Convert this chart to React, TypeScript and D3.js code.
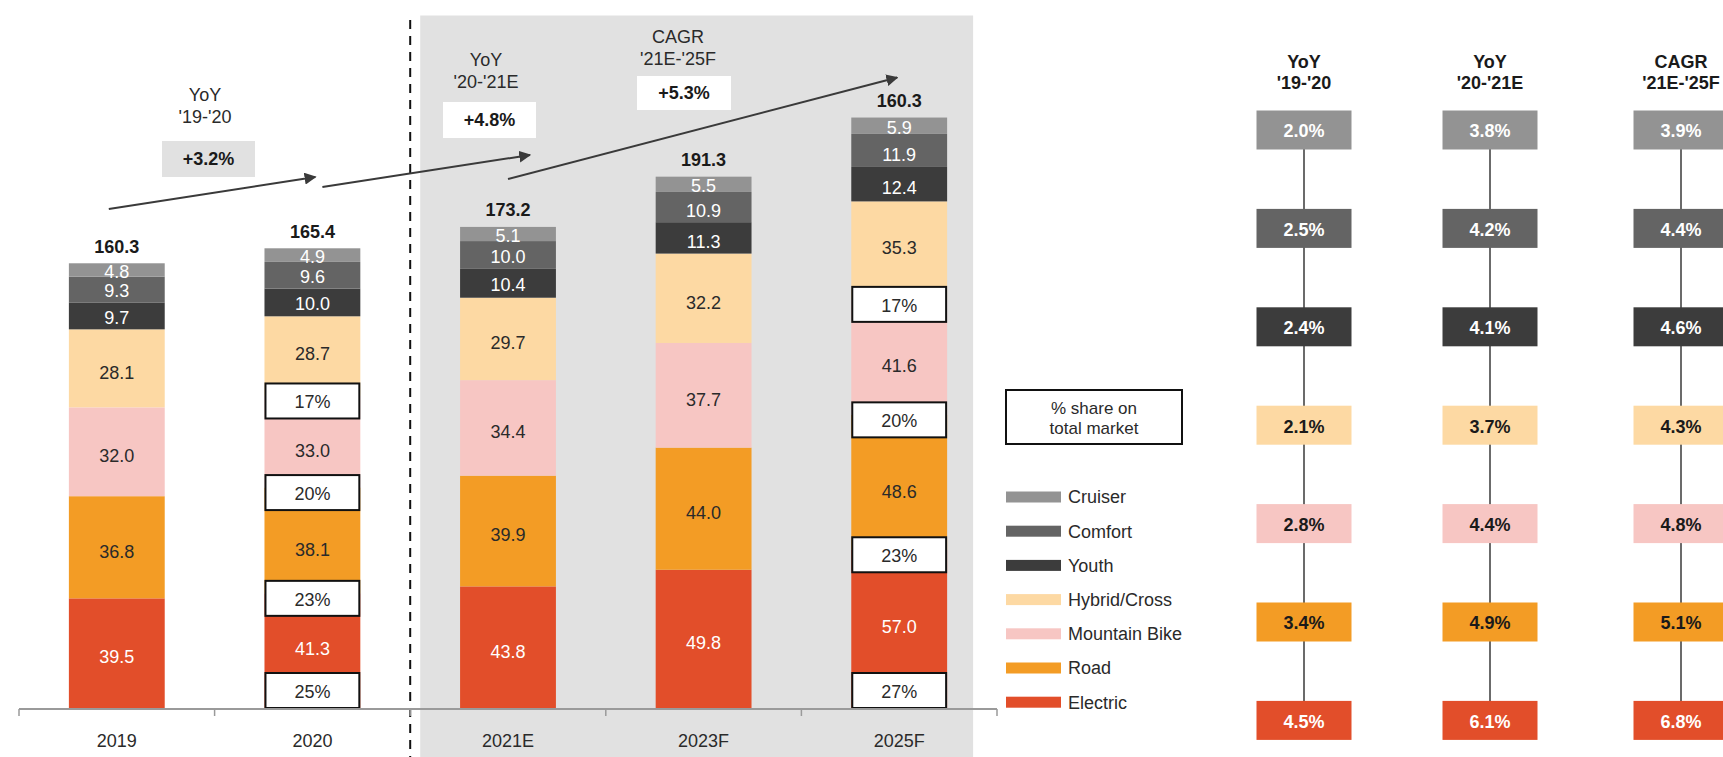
import React from "react";
import * as d3 from "d3";

// ---------- data ----------
const categories = ["2019", "2020", "2021E", "2023F", "2025F"];
const seriesNames = ["Electric", "Road", "Mountain Bike", "Hybrid/Cross", "Youth", "Comfort", "Cruiser"]; // bottom -> top
const electric = [39.5, 41.3, 43.8, 49.8, 57.0];
const road = [36.8, 38.1, 39.9, 44.0, 48.6];
const mountain = [32.0, 33.0, 34.4, 37.7, 41.6];
const hybrid = [28.1, 28.7, 29.7, 32.2, 35.3];
const youth = [9.7, 10.0, 10.4, 11.3, 12.4];
const comfort = [9.3, 9.6, 10.0, 10.9, 11.9];
const cruiser = [4.8, 4.9, 5.1, 5.5, 5.9];
const totalLabels = ["160.3", "165.4", "173.2", "191.3", "160.3"];

// share on total market (electric, road, mountain, hybrid)
const shareCategories = ["2020", "2025F"];
const shares2020 = ["25%", "23%", "20%", "17%"];
const shares2025 = ["27%", "23%", "20%", "17%"];

// growth annotations
const growthTitles = [["YoY", "'19-'20"], ["YoY", "'20-'21E"], ["CAGR", "'21E-'25F"]];
const growthTotals = ["+3.2%", "+4.8%", "+5.3%"];

// growth table by segment (top -> bottom order in table)
const tableHeaders = [["YoY", "'19-'20"], ["YoY", "'20-'21E"], ["CAGR", "'21E-'25F"]];
const tableSegments = ["Cruiser", "Comfort", "Youth", "Hybrid/Cross", "Mountain Bike", "Road", "Electric"];
const growthCruiser = ["2.0%", "3.8%", "3.9%"];
const growthComfort = ["2.5%", "4.2%", "4.4%"];
const growthYouth = ["2.4%", "4.1%", "4.6%"];
const growthHybrid = ["2.1%", "3.7%", "4.3%"];
const growthMountain = ["2.8%", "4.4%", "4.8%"];
const growthRoad = ["3.4%", "4.9%", "5.1%"];
const growthElectric = ["4.5%", "6.1%", "6.8%"];

const legendTitle = ["% share on", "total market"];

// ---------- styles ----------
const colors: Record<string, string> = {
  Electric: "#e24e2a",
  Road: "#f39c25",
  "Mountain Bike": "#f7c6c3",
  "Hybrid/Cross": "#fdd9a3",
  Youth: "#3c3c3c",
  Comfort: "#646464",
  Cruiser: "#939393",
};
const lightText: Record<string, boolean> = {
  Electric: true, Road: false, "Mountain Bike": false, "Hybrid/Cross": false,
  Youth: true, Comfort: true, Cruiser: true,
};
const FONT = "'Liberation Sans', Arial, Helvetica, sans-serif";
const FS = 18;

export default function App() {
  const W = 1723, H = 757;
  const baseline = 708;

  const seriesValues = [electric, road, mountain, hybrid, youth, comfort, cruiser];
  const rows = categories.map((c, i) => {
    const r: any = { cat: c };
    seriesNames.forEach((s, k) => (r[s] = seriesValues[k][i]));
    return r;
  });
  const stack = d3.stack<any>().keys(seriesNames)(rows);

  const x = d3.scaleBand().domain(categories).range([19, 997]).paddingInner(0.51).paddingOuter(0.255);
  const xTick = d3.scaleBand().domain(categories).range([19, 997]).padding(0);
  const y = d3.scaleLinear().domain([0, 100]).range([baseline, baseline - 277.6]);
  const bw = x.bandwidth();

  const tickXs = [...categories.map((c) => xTick(c)!), 997];
  const dashX = xTick("2021E")!;
  const panelLeft = dashX + 10;
  const panelRight = x("2025F")! + bw + 26;

  // share boxes
  const boxH = 35;
  const shareMap: Record<string, string[]> = { "2020": shares2020, "2025F": shares2025 };
  const shareBoxes: Record<string, { y0: number; y1: number; label: string }[]> = {};
  shareCategories.forEach((c) => {
    const ci = categories.indexOf(c);
    shareBoxes[c] = shareMap[c].map((lab, k) => {
      const segBottom = y(stack[k][ci][0]);
      if (k === 0) return { y0: baseline - boxH, y1: baseline, label: lab };
      const cy = segBottom + 5;
      return { y0: cy - boxH / 2, y1: cy + boxH / 2, label: lab };
    });
  });

  const segLabelY = (ci: number, k: number) => {
    let top = y(stack[k][ci][1]);
    let bot = y(stack[k][ci][0]);
    const boxes = shareBoxes[categories[ci]] || [];
    boxes.forEach((b) => {
      if (b.y0 < bot && b.y1 >= bot) bot = Math.min(bot, b.y0);
      if (b.y1 > top && b.y0 <= top) top = Math.max(top, b.y1);
    });
    return (top + bot) / 2 + (bot - top > 30 ? 4 : 1.5);
  };

  const tableValues = [growthCruiser, growthComfort, growthYouth, growthHybrid, growthMountain, growthRoad, growthElectric];
  const colX = [1304, 1490, 1681];
  const rowY = d3.scaleLinear().domain([0, 6]).range([130, 720.4]);
  const tbW = 95, tbH = 39;

  const arrows = [
    { x1: x("2019")! + bw / 2 - 8, y1: 209, x2: x("2020")! + bw / 2 + 3, y2: 177 },
    { x1: x("2020")! + bw / 2 + 10, y1: 187, x2: x("2021E")! + bw / 2 + 22, y2: 155 },
    { x1: x("2021E")! + bw / 2, y1: 179, x2: x("2025F")! + bw / 2 - 2, y2: 77.5 },
  ];
  const annos = [
    { cx: 205, ty: 95, box: { x0: 162, x1: 255, y0: 141, y1: 177 }, fill: "#e1e1e1" },
    { cx: 486, ty: 60, box: { x0: 443, x1: 536, y0: 102, y1: 138 }, fill: "#ffffff" },
    { cx: 678, ty: 37, box: { x0: 637, x1: 731, y0: 76, y1: 110 }, fill: "#ffffff" },
  ];

  return (
    <div style={{ position: "absolute", left: 0, top: 0 }}>
      <svg width={W} height={H} style={{ display: "block", fontFamily: FONT }}>
        <defs>
          <marker id="ah" viewBox="0 0 10 10" refX="9" refY="5" markerWidth="6" markerHeight="6" orient="auto">
            <path d="M0,0 L10,5 L0,10 z" fill="#3a3a3a" />
          </marker>
        </defs>
        <rect x={0} y={0} width={W} height={H} fill="#ffffff" />
        {/* forecast panel */}
        <rect x={panelLeft} y={15.5} width={panelRight - panelLeft} height={H - 15.5} fill="#e1e1e1" />
        {/* dashed divider */}
        <line x1={dashX} x2={dashX} y1={20} y2={H} stroke="#111" strokeWidth={2} strokeDasharray="9,7" />

        {/* bars */}
        {stack.map((layer, k) =>
          layer.map((d, ci) => (
            <rect key={`${k}-${ci}`} x={x(categories[ci])} y={y(d[1])} width={bw}
              height={y(d[0]) - y(d[1])} fill={colors[seriesNames[k]]} />
          ))
        )}
        {/* segment labels */}
        {stack.map((layer, k) =>
          layer.map((d, ci) => (
            <text key={`l${k}-${ci}`} x={x(categories[ci])! + bw / 2} y={segLabelY(ci, k)} dy="0.35em"
              textAnchor="middle" fontSize={FS} fill={lightText[seriesNames[k]] ? "#ffffff" : "#2a2a2a"}>
              {d3.format(".1f")(d.data[seriesNames[k]])}
            </text>
          ))
        )}
        {/* share boxes */}
        {shareCategories.map((c) =>
          shareBoxes[c].map((b, k) => (
            <g key={`s${c}${k}`}>
              <rect x={x(c)! + 1} y={b.y0} width={bw - 2} height={b.y1 - b.y0} fill="#fff" stroke="#111" strokeWidth={2} />
              <text x={x(c)! + bw / 2} y={(b.y0 + b.y1) / 2 + 1} dy="0.35em" textAnchor="middle" fontSize={FS} fill="#2a2a2a">{b.label}</text>
            </g>
          ))
        )}
        {/* totals */}
        {categories.map((c, ci) => (
          <text key={`t${c}`} x={x(c)! + bw / 2} y={y(stack[stack.length - 1][ci][1]) - 17} dy="0.35em"
            textAnchor="middle" fontSize={FS} fontWeight="bold" fill="#1a1a1a">{totalLabels[ci]}</text>
        ))}

        {/* axis */}
        <line x1={19} x2={997} y1={709} y2={709} stroke="#9a9a9a" strokeWidth={2} />
        {tickXs.map((t, i) => (
          <line key={`tk${i}`} x1={t} x2={t} y1={709} y2={716} stroke="#9a9a9a" strokeWidth={1.5} />
        ))}
        {categories.map((c) => (
          <text key={`c${c}`} x={x(c)! + bw / 2} y={741} dy="0.35em" textAnchor="middle" fontSize={FS} fill="#2a2a2a">{c}</text>
        ))}

        {/* growth annotations */}
        {arrows.map((a, i) => (
          <line key={`ar${i}`} x1={a.x1} y1={a.y1} x2={a.x2} y2={a.y2} stroke="#3a3a3a" strokeWidth={2} markerEnd="url(#ah)" />
        ))}
        {annos.map((a, i) => (
          <g key={`an${i}`}>
            <text x={a.cx} y={a.ty} dy="0.35em" textAnchor="middle" fontSize={FS} fill="#2a2a2a">{growthTitles[i][0]}</text>
            <text x={a.cx} y={a.ty + 22} dy="0.35em" textAnchor="middle" fontSize={FS} fill="#2a2a2a">{growthTitles[i][1]}</text>
            <rect x={a.box.x0} y={a.box.y0} width={a.box.x1 - a.box.x0} height={a.box.y1 - a.box.y0} fill={a.fill} />
            <text x={(a.box.x0 + a.box.x1) / 2} y={(a.box.y0 + a.box.y1) / 2} dy="0.35em" textAnchor="middle"
              fontSize={FS} fontWeight="bold" fill="#1a1a1a">{growthTotals[i]}</text>
          </g>
        ))}

        {/* legend */}
        <rect x={1006} y={390} width={176} height={54} fill="#fff" stroke="#111" strokeWidth={2} />
        {legendTitle.map((t, i) => (
          <text key={`lt${i}`} x={1094} y={408 + i * 20} dy="0.35em" textAnchor="middle" fontSize={17} fill="#2a2a2a">{t}</text>
        ))}
        {tableSegments.map((s, i) => (
          <g key={`lg${s}`}>
            <rect x={1006} y={497 + i * 34.2 - 5.5} width={55} height={11} fill={colors[s]} />
            <text x={1068} y={497 + i * 34.2} dy="0.35em" fontSize={FS} fill="#2a2a2a">{s}</text>
          </g>
        ))}

        {/* growth table */}
        {tableHeaders.map((h, j) => (
          <g key={`th${j}`}>
            <text x={colX[j]} y={62} dy="0.35em" textAnchor="middle" fontSize={FS} fontWeight="bold" fill="#1a1a1a">{h[0]}</text>
            <text x={colX[j]} y={83} dy="0.35em" textAnchor="middle" fontSize={FS} fontWeight="bold" fill="#1a1a1a">{h[1]}</text>
            <line x1={colX[j]} x2={colX[j]} y1={rowY(0)} y2={rowY(6)} stroke="#3a3a3a" strokeWidth={1.5} />
          </g>
        ))}
        {tableSegments.map((s, i) =>
          tableValues[i].map((v, j) => (
            <g key={`tb${i}-${j}`}>
              <rect x={colX[j] - tbW / 2} y={rowY(i) - tbH / 2} width={tbW} height={tbH} fill={colors[s]} />
              <text x={colX[j]} y={rowY(i) + 1} dy="0.35em" textAnchor="middle" fontSize={FS} fontWeight="bold"
                fill={lightText[s] ? "#ffffff" : "#1a1a1a"}>{v}</text>
            </g>
          ))
        )}
      </svg>
    </div>
  );
}
